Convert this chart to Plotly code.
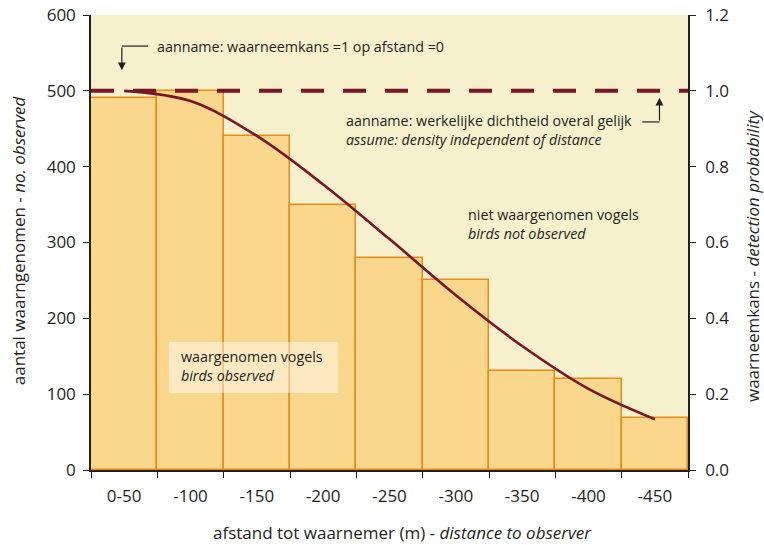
import plotly.graph_objects as go

# ---- data ----
categories = ["0-50", "-100", "-150", "-200", "-250", "-300", "-350", "-400", "-450"]
observed = [490, 500, 440, 350, 280, 250, 130, 120, 68]
detection_prob = [1.0, 0.973, 0.881, 0.753, 0.609, 0.461, 0.327, 0.214, 0.134]
assumed_density = 500
left_ticks = [0, 100, 200, 300, 400, 500, 600]
right_ticks = [0.0, 0.2, 0.4, 0.6, 0.8, 1.0, 1.2]

FONT = "Open Sans"
TXT = "#231f20"
MAROON = "#7a1426"
xpos = list(range(len(categories)))

fig = go.Figure()
fig.add_trace(go.Bar(
    x=xpos, y=observed, width=1,
    marker=dict(color="#f9d88e", line=dict(color="#ea8a17", width=1.5)),
    showlegend=False, hoverinfo="skip"))
fig.add_trace(go.Scatter(
    x=xpos, y=detection_prob, yaxis="y2", mode="lines",
    line=dict(color=MAROON, width=2.6, shape="spline", smoothing=1.0),
    showlegend=False, hoverinfo="skip"))

# dashed assumed density line
fig.add_shape(type="line", xref="paper", x0=0, x1=1, yref="y",
              y0=assumed_density, y1=assumed_density,
              line=dict(color=MAROON, width=4, dash="23px,19px"), layer="above")

# box behind "waargenomen vogels"
fig.add_shape(type="rect", xref="x", yref="y", x0=0.675, x1=3.22, y0=101.5, y1=168.8,
              fillcolor="rgba(255,255,255,0.45)", line=dict(width=0), layer="above")

# elbow arrow 1
fig.add_shape(type="line", xref="x", yref="y", x0=0.36, x1=-0.035, y0=559, y1=559,
              line=dict(color=TXT, width=1.2), layer="above")
fig.add_annotation(x=-0.035, y=527, ax=-0.035, ay=559, xref="x", yref="y",
                   axref="x", ayref="y", text="", showarrow=True,
                   arrowhead=2, arrowsize=1.3, arrowwidth=1.2, arrowcolor=TXT)
# elbow arrow 2
fig.add_shape(type="line", xref="x", yref="y", x0=7.81, x1=8.07, y0=459, y1=459,
              line=dict(color=TXT, width=1.2), layer="above")
fig.add_annotation(x=8.07, y=491, ax=8.07, ay=459, xref="x", yref="y",
                   axref="x", ayref="y", text="", showarrow=True,
                   arrowhead=2, arrowsize=1.3, arrowwidth=1.2, arrowcolor=TXT)

afont = dict(family=FONT, size=14.3, color=TXT)
fig.add_annotation(x=0.46, y=559, xref="x", yref="y", xanchor="left", yanchor="middle",
                   text="aanname: waarneemkans =1 op afstand =0", showarrow=False, font=afont)
fig.add_annotation(x=3.32, y=448, xref="x", yref="y", xanchor="left", yanchor="middle", align="left",
                   text="aanname: werkelijke dichtheid overal gelijk<br><i>assume: density independent of distance</i>",
                   showarrow=False, font=afont)
fig.add_annotation(x=5.16, y=324, xref="x", yref="y", xanchor="left", yanchor="middle", align="left",
                   text="niet waargenomen vogels<br><i>birds not observed</i>",
                   showarrow=False, font=afont)
fig.add_annotation(x=0.83, y=137, xref="x", yref="y", xanchor="left", yanchor="middle", align="left",
                   text="waargenomen vogels<br><i>birds observed</i>",
                   showarrow=False, font=afont)

# axis titles as annotations (precise placement)
titlefont = dict(family=FONT, size=17, color=TXT)
fig.add_annotation(x=0.521, y=-0.1375, xref="paper", yref="paper", xanchor="center", yanchor="middle",
                   text="afstand tot waarnemer (m) - <i>distance to observer</i>",
                   showarrow=False, font=titlefont, borderpad=0)
fig.add_annotation(x=-0.1223, y=0.505, xref="paper", yref="paper", xanchor="center", yanchor="middle",
                   text="aantal waarngenomen - <i>no. observed</i>", textangle=-90,
                   showarrow=False, font=titlefont, borderpad=0)
fig.add_annotation(x=1.107, y=0.470, xref="paper", yref="paper", xanchor="center", yanchor="middle",
                   text="waarneemkans - <i>detection probability</i>", textangle=-90,
                   showarrow=False, font=titlefont, borderpad=0)

tickfont = dict(family=FONT, size=17, color=TXT)
fig.update_layout(
    width=764, height=545,
    margin=dict(l=91, r=76, t=15, b=75),
    paper_bgcolor="white", plot_bgcolor="#f6f1cc",
    bargap=0,
    xaxis=dict(range=[-0.5, 8.5], tickvals=xpos, ticktext=categories, ticks="",
               automargin=False, ticklabelstandoff=10, ticklabeloverflow="allow",
               showgrid=False, zeroline=False, showline=True, linecolor=TXT, linewidth=1.5,
               tickfont=tickfont,
               minor=dict(tickvals=[i - 0.5 for i in range(len(categories) + 1)],
                          ticks="outside", ticklen=6, tickcolor=TXT, tickwidth=1.2, showgrid=False)),
    yaxis=dict(range=[0, 600], tickvals=left_ticks, ticks="outside", ticklen=6,
               automargin=False, ticklabelstandoff=4, ticklabeloverflow="allow",
               tickcolor=TXT, showgrid=False, zeroline=False, showline=True,
               linecolor=TXT, linewidth=1.5, tickfont=tickfont),
    yaxis2=dict(range=[0, 1.2], overlaying="y", side="right", tickvals=right_ticks,
                ticktext=[f"{v:.1f}" for v in right_ticks], automargin=False,
                ticklabelstandoff=6, ticklabeloverflow="allow",
                ticks="outside", ticklen=6, tickcolor=TXT, showgrid=False, zeroline=False,
                showline=True, linecolor=TXT, linewidth=1.5, tickfont=tickfont),
)
fig.write_html("out.html", config={"displayModeBar": False},
               post_script="document.body.style.margin='0';document.body.style.overflow='hidden';")
